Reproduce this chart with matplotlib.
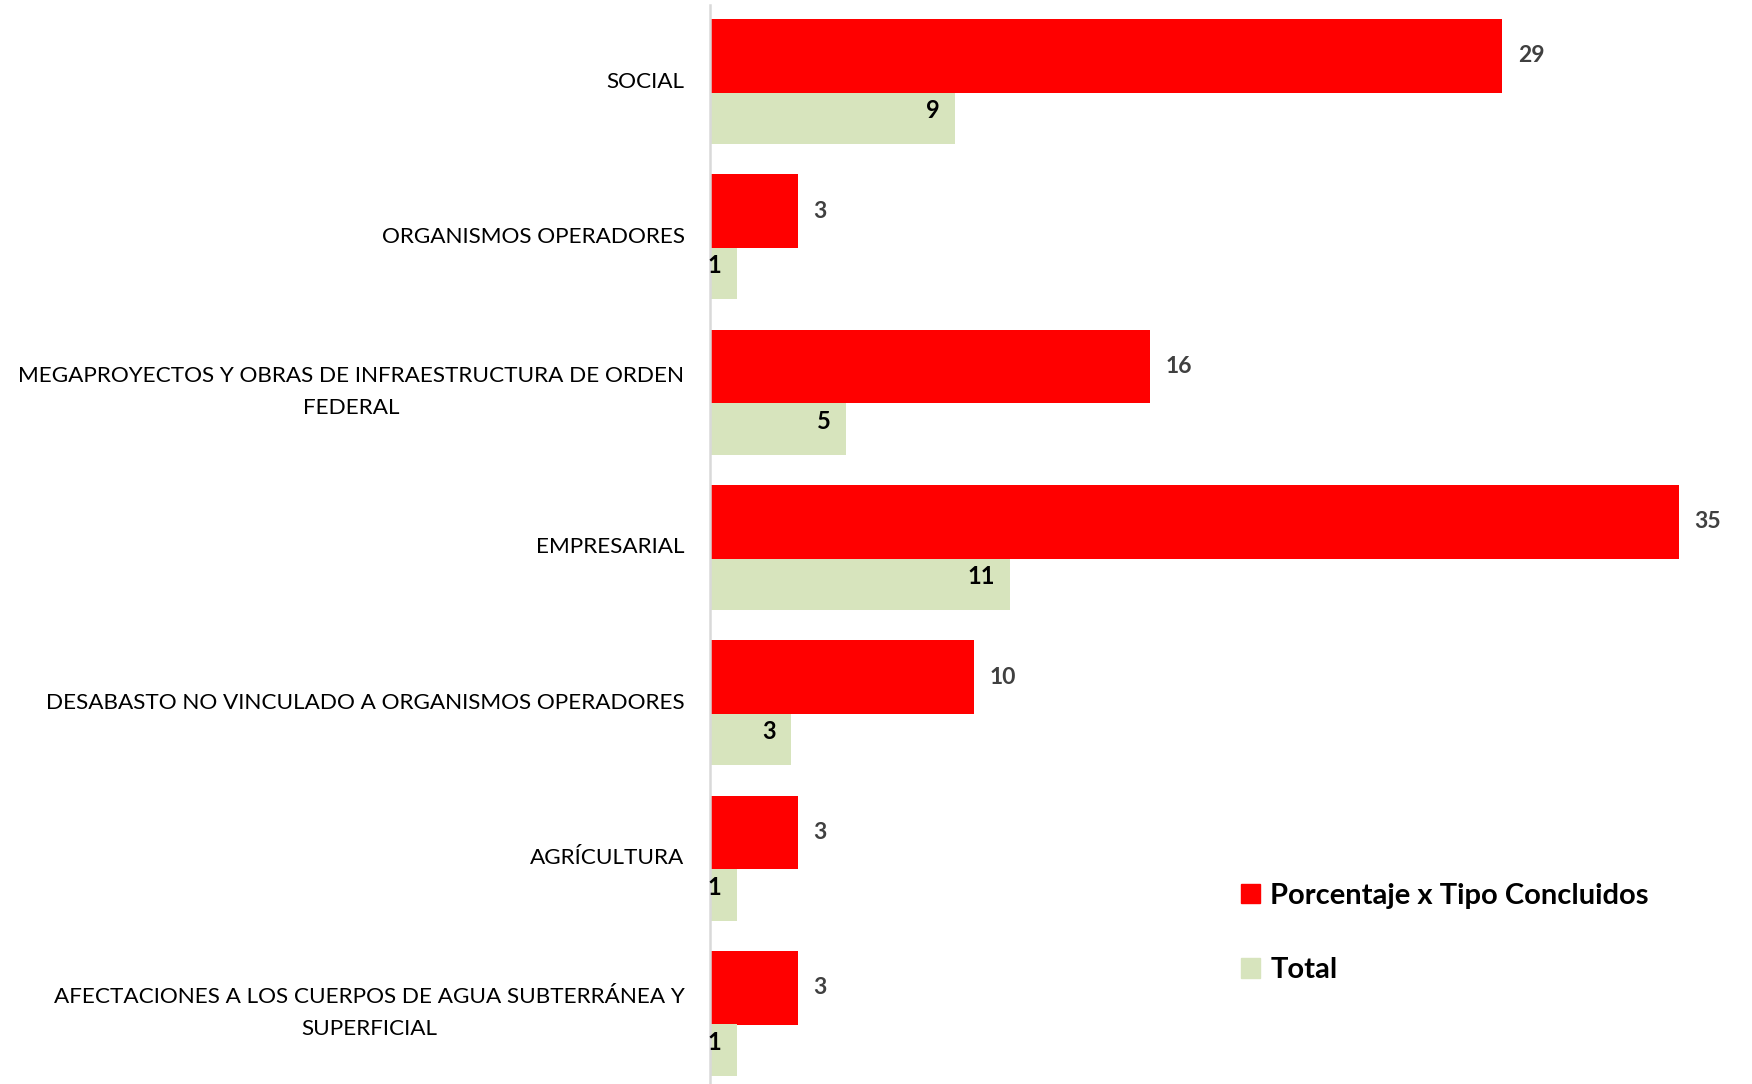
import matplotlib
matplotlib.use('Agg')
import matplotlib.pyplot as plt
from matplotlib.patches import Patch
import numpy as np

plt.rcParams['font.family'] = ['Lato', 'DejaVu Sans']

categorias = ['SOCIAL', 'ORGANISMOS OPERADORES',
              'MEGAPROYECTOS Y OBRAS DE INFRAESTRUCTURA DE ORDEN\nFEDERAL',
              'EMPRESARIAL', 'DESABASTO NO VINCULADO A ORGANISMOS OPERADORES',
              'AGRÍCULTURA',
              'AFECTACIONES A LOS CUERPOS DE AGUA SUBTERRÁNEA Y\nSUPERFICIAL']
total = [9, 1, 5, 11, 3, 1, 1]
porcentaje = [29.03, 3.23, 16.13, 35.48, 9.68, 3.23, 3.23]
etiq_pct = ['29', '3', '16', '35', '10', '3', '3']

ROJO = '#ff0000'
VERDE = '#d7e4bd'

fig = plt.figure(figsize=(17.52, 10.84), dpi=100)
ax = fig.add_axes([709.5/1752, 0, 1 - 709.5/1752, 1])

y = np.arange(len(categorias))
yr = y - 0.165
yg = y + 0.237
ax.barh(yr, porcentaje, height=0.475, color=ROJO, zorder=2)
ax.barh(yg, total, height=0.331, color=VERDE, zorder=2)

for yy, v, t in zip(yr, porcentaje, etiq_pct):
    ax.annotate(t, (v, yy), xytext=(11, 0), textcoords='offset points',
                ha='left', va='center', fontsize=16.5, fontweight='bold', color='#404040')
for yy, v in zip(yg, total):
    ax.annotate(str(v), (v, yy - 0.05), xytext=(-11, 0), textcoords='offset points',
                ha='right', va='center', fontsize=17, fontweight='bold', color='black')

ax.set_xlim(0, 38.17)
ax.set_ylim(6.455, -0.525)
ax.set_yticks(y)
ax.set_yticklabels(categorias, fontsize=16.2)
for lab in ax.get_yticklabels():
    lab.set_multialignment('center')
    lab.set_linespacing(1.75)
    lab.set_verticalalignment('center')
ax.tick_params(axis='y', length=0, pad=18)
ax.set_xticks([])
for s in ['top', 'right', 'bottom']:
    ax.spines[s].set_visible(False)
ax.spines['left'].set_color('#d9d9d9')
ax.spines['left'].set_linewidth(1.8)
ax.spines['left'].set_bounds(-0.49, 6.455)

handles = [Patch(color=ROJO), Patch(color=VERDE)]
ax.legend(handles, ['Porcentaje x Tipo Concluidos', 'Total'],
          loc='upper left', bbox_to_anchor=(1241/1752, 1 - 883/1084),
          bbox_transform=fig.transFigure, frameon=False,
          prop={'size': 21, 'weight': 'bold'}, handlelength=0.65, handleheight=0.65,
          handletextpad=0.35, labelspacing=1.65, borderaxespad=0, borderpad=0)

fig.savefig('out.png', dpi=100)
